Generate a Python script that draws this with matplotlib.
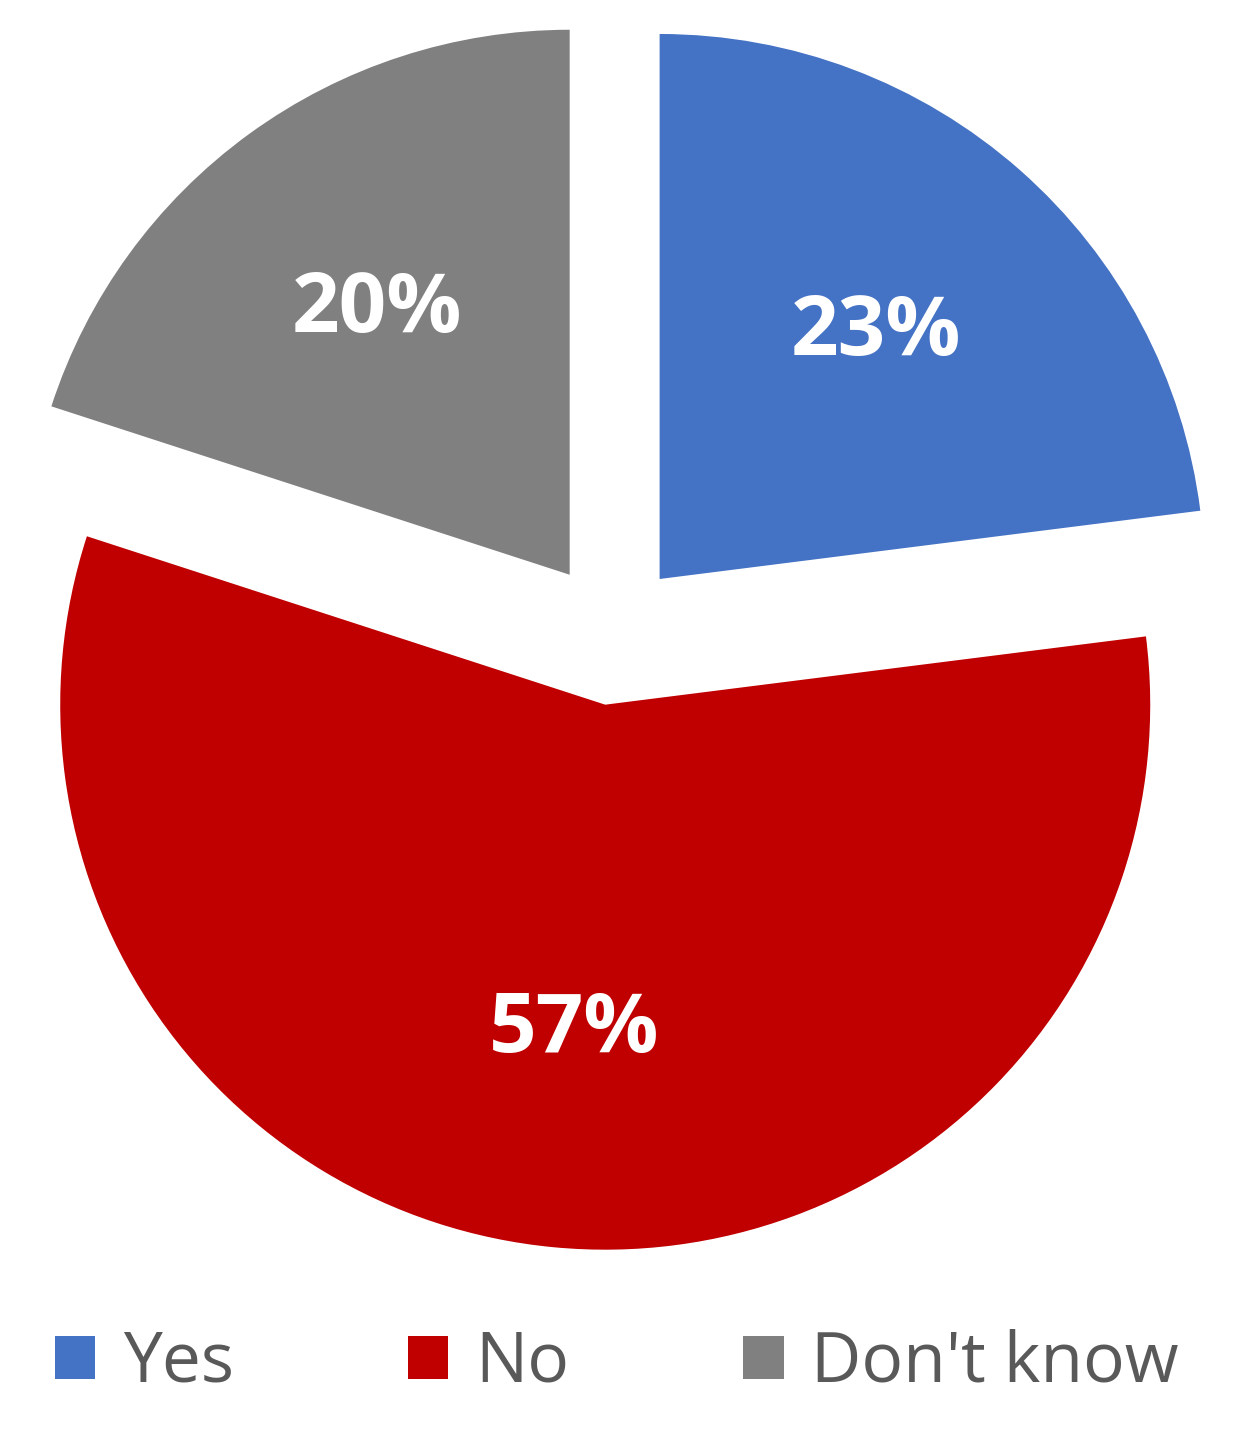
import matplotlib
matplotlib.use("Agg")
import matplotlib.pyplot as plt

# Survey answers (share of respondents, %)
categories = ["Yes", "No", "Don't know"]
shares = [23, 57, 20]
colors = ["#4472C4", "#C00000", "#808080"]

W, H = 1234, 1444
R = 545
# matplotlib's explode offset is in data units (not scaled by radius)
explode = [72, 72, 72]

fig = plt.figure(figsize=(W / 100, H / 100), dpi=100)
ax = fig.add_axes([0, 0, 1, 1])

wedges, _, autotexts = ax.pie(
    shares,
    colors=colors,
    explode=explode,
    startangle=90,
    counterclock=False,
    radius=R,
    center=(612, H - 633),
    autopct="%d%%",
    pctdistance=0.6,
    wedgeprops=dict(linewidth=0),
    textprops=dict(color="white", fontsize=60, fontweight="bold",
                   family="Open Sans"),
)

ax.set_xlim(0, W)
ax.set_ylim(0, H)
ax.set_aspect("equal")
ax.axis("off")

leg = fig.legend(
    wedges, categories,
    loc="center", bbox_to_anchor=(0.5, 1 - 1364 / H),
    ncol=3, frameon=False,
    prop=dict(family="Open Sans", size=50),
    handlelength=0.58, handleheight=0.58,
    handletextpad=0.4, columnspacing=2.5,
)
for t in leg.get_texts():
    t.set_color("#595959")

fig.savefig("out.png", dpi=100)
